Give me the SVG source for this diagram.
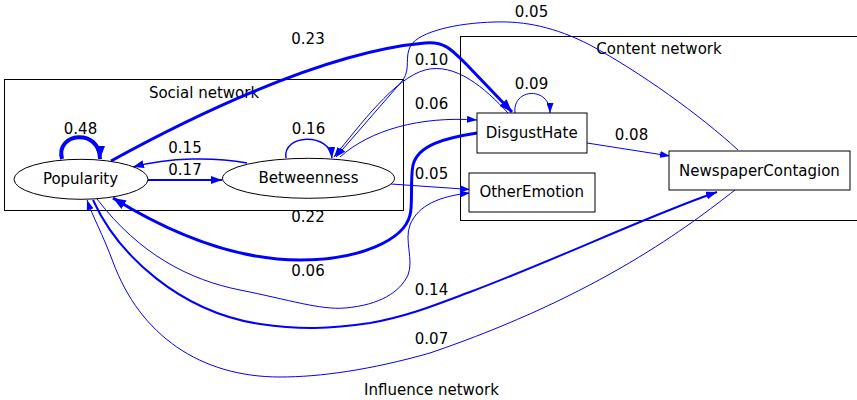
<svg xmlns="http://www.w3.org/2000/svg" width="857" height="400" viewBox="0 0 857 400">
<style>
text{font-family:"DejaVu Sans","Liberation Sans",sans-serif;font-size:15px;fill:#000}
.lbl{text-anchor:middle}
.cl{fill:none;stroke:#000;stroke-width:1}
.nd{fill:#fff;stroke:#000;stroke-width:1}
#connectors path{fill:none;stroke:#0000ff}
.w1{stroke-width:1}
.w15{stroke-width:1.5}
.w2{stroke-width:2}
.w3{stroke-width:3}
.w4{stroke-width:4}
</style>
<defs>
<marker id="a" viewBox="0 0 10 7" refX="10" refY="3.5" markerWidth="10" markerHeight="7" markerUnits="userSpaceOnUse" orient="auto"><path d="M0,0L10,3.5L0,7z" fill="#0000ff"/></marker>
<marker id="b" viewBox="0 0 11 8" refX="11" refY="4" markerWidth="11" markerHeight="8" markerUnits="userSpaceOnUse" orient="auto"><path d="M0,0L11,4L0,8z" fill="#0000ff"/></marker>
<marker id="c" viewBox="0 0 13 10" refX="13" refY="5" markerWidth="13" markerHeight="10" markerUnits="userSpaceOnUse" orient="auto"><path d="M0,0L13,5L0,10z" fill="#0000ff"/></marker>
</defs>
<rect width="857" height="400" fill="#fff"/>
<g id="cluster-social">
<rect class="cl" x="4.5" y="79.5" width="399" height="131"/>
<text class="lbl" x="204" y="98">Social network</text>
</g>
<g id="cluster-content">
<rect class="cl" x="460.5" y="36.5" width="420" height="184"/>
<text class="lbl" x="659" y="54">Content network</text>
</g>
<g id="cluster-influence">
<text class="lbl" x="431.5" y="394.5">Influence network</text>
</g>
<g id="connectors">
<path class="w4" d="M62,159 C55,132 100,128 100,159" marker-end="url(#c)"/>
<path class="w2" d="M148,180 L222,180" marker-end="url(#b)"/>
<path class="w15" d="M247,163 C215,157 170,157 133,167" marker-end="url(#b)"/>
<path class="w15" d="M286,158 C282,134 330,132 332,158" marker-end="url(#b)"/>
<path class="w3" d="M111,161 C180,123 320,52 425,43 C445,41 452,50 468,66 L512,112" marker-end="url(#c)"/>
<path class="w1" d="M508,113 C485,88 455,62 425,70 C395,78 360,125 334,157" marker-end="url(#a)"/>
<path class="w1" d="M738,150 C700,115 640,72 590,45 C555,27 525,21 495,22 C455,23 420,32 411,45 C404,57 411,68 403,80 L336,157" marker-end="url(#a)"/>
<path class="w1" d="M340,157 C370,130 420,116 477,120" marker-end="url(#a)"/>
<path class="w3" d="M477,133 C445,138 418,145 413,165 C410,180 413,205 410,215 C404,240 360,260 300,260 C230,260 165,230 113,198" marker-end="url(#c)"/>
<path class="w1" d="M97,199 C140,255 190,280 240,290 C290,300 320,310 345,308 C380,305 400,292 408,275 C414,260 404,240 410,225 C418,205 440,196 470,193" marker-end="url(#a)"/>
<path class="w1" d="M391,184 L470,189.5" marker-end="url(#a)"/>
<path class="w1" d="M587,143 L670,156" marker-end="url(#a)"/>
<path class="w2" d="M93,200 C118,255 180,312 260,324 C300,330 330,329 370,323 C410,316 440,303 470,292 C560,258 650,215 717,192" marker-end="url(#b)"/>
<path class="w1" d="M735,190 C690,225 600,295 430,353 C370,370 320,377 280,377 C200,377 140,335 113,262 C103,235 92,215 87,200" marker-end="url(#a)"/>
<path class="w1" d="M515,113 C512,88 550,86 550,113" marker-end="url(#a)"/>
</g>
<g id="edge-labels">
<text class="lbl" x="80.5" y="134">0.48</text>
<text class="lbl" x="308.5" y="133.5">0.16</text>
<text class="lbl" x="185" y="153">0.15</text>
<text class="lbl" x="185" y="175">0.17</text>
<text class="lbl" x="308" y="43.5">0.23</text>
<text class="lbl" x="431.5" y="64.5">0.10</text>
<text class="lbl" x="431.5" y="108.5">0.06</text>
<text class="lbl" x="531.5" y="88.5">0.09</text>
<text class="lbl" x="531.5" y="17">0.05</text>
<text class="lbl" x="631.5" y="140">0.08</text>
<text class="lbl" x="431.5" y="179">0.05</text>
<text class="lbl" x="308" y="222">0.22</text>
<text class="lbl" x="308" y="276">0.06</text>
<text class="lbl" x="431.5" y="294.5">0.14</text>
<text class="lbl" x="431.5" y="343.5">0.07</text>
</g>
<g id="node-popularity">
<ellipse class="nd" cx="81" cy="179.3" rx="67" ry="20"/>
<text class="lbl" x="80.5" y="184">Popularity</text>
</g>
<g id="node-betweenness">
<ellipse class="nd" cx="308.5" cy="178.3" rx="86" ry="20"/>
<text class="lbl" x="308.5" y="183">Betweenness</text>
</g>
<g id="node-disgusthate">
<rect class="nd" x="477" y="113" width="110" height="40"/>
<text class="lbl" x="531.7" y="137.5">DisgustHate</text>
</g>
<g id="node-otheremotion">
<rect class="nd" x="469" y="173" width="126" height="39"/>
<text class="lbl" x="531.7" y="197">OtherEmotion</text>
</g>
<g id="node-newspapercontagion">
<rect class="nd" x="669" y="151" width="181" height="39"/>
<text class="lbl" x="759.5" y="175.5">NewspaperContagion</text>
</g>
</svg>
